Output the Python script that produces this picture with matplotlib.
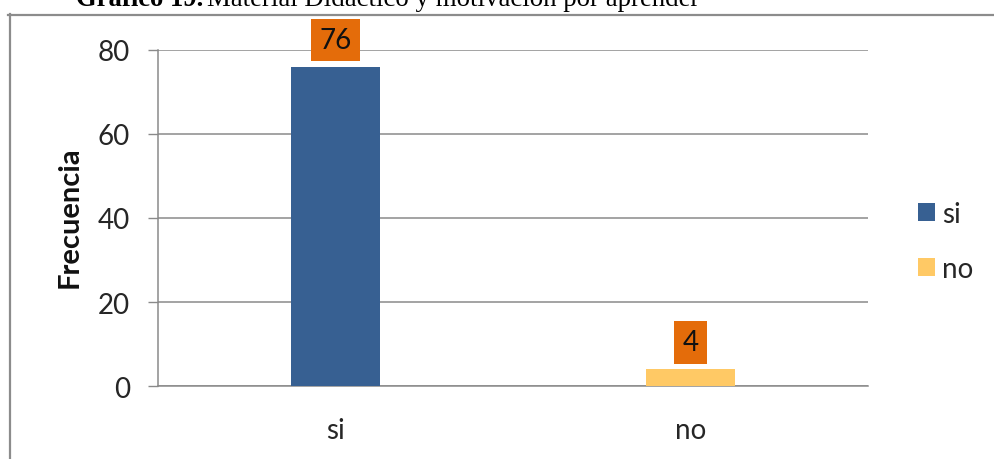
"""Bar chart: Material Didáctico y motivación por aprender."""

import matplotlib

matplotlib.use("Agg")

import matplotlib.pyplot as plt
from matplotlib.lines import Line2D

categories = ["si", "no"]
frequencies = [76, 4]
bar_colors = ["#376092", "#FFC965"]
y_ticks = [0, 20, 40, 60, 80]

W, H = 994, 460
GRID = "#8A8A8A"
TEXT = "#262626"
FS = 20

plt.rcParams["font.family"] = ["Lato", "DejaVu Sans"]

fig = plt.figure(figsize=(W / 100, H / 100), dpi=100)
ax = fig.add_axes([158 / W, 1 - 387 / H, 710 / W, 336 / H])

bars = []
for i, (cat, val, col) in enumerate(zip(categories, frequencies, bar_colors)):
    b = ax.bar(i, val, width=0.25, color=col, label=cat, zorder=3)
    bars.append(b)
    ax.annotate(
        str(val),
        xy=(i, val),
        xytext=(0, 10),
        textcoords="offset points",
        ha="center",
        va="bottom",
        fontsize=FS,
        color="#111111",
        bbox=dict(boxstyle="square,pad=0.3", fc="#E46C0A", ec="none"),
        zorder=4,
    )

ax.set_xlim(-0.5, 1.5)
ax.set_ylim(0, 80)
ax.set_yticks(y_ticks)
ax.set_xticks(range(len(categories)))
ax.set_xticklabels(categories)
ax.yaxis.grid(True, color=GRID, linewidth=1.1, zorder=0)
ax.tick_params(axis="y", length=7, width=1, color=GRID, pad=13,
               labelsize=FS, labelcolor=TEXT)
ax.tick_params(axis="x", length=0, pad=22, labelsize=FS, labelcolor=TEXT)
for side in ["top", "right"]:
    ax.spines[side].set_visible(False)
for side in ["left", "bottom"]:
    ax.spines[side].set_color(GRID)
    ax.spines[side].set_linewidth(1.1)

ax.legend(
    handles=bars,
    labels=categories,
    loc="center left",
    bbox_to_anchor=(1.07, 0.43),
    frameon=False,
    fontsize=FS,
    handlelength=0.62,
    handleheight=0.62,
    handletextpad=0.25,
    labelspacing=1.05,
    labelcolor=TEXT,
    borderaxespad=0,
    borderpad=0,
)

fig.text(70 / W, 1 - 217 / H, "Frecuencia", rotation=90, ha="center",
         va="center", fontsize=21, fontweight="bold", color="#111111")

# outer frame (top and left edges visible)
fig.add_artist(Line2D([8 / W, 1], [1 - 15.5 / H] * 2, color="#8C8C8C",
                      linewidth=1.6, transform=fig.transFigure))
fig.add_artist(Line2D([9.5 / W] * 2, [1 - 15 / H, 0], color="#8C8C8C",
                      linewidth=1.6, transform=fig.transFigure))

# clipped caption at the very top
t1 = fig.text(76 / W, 1 - 6 / H, "Gráfico 19.", family="Liberation Serif",
              fontweight="bold", fontsize=19.2, va="baseline", ha="left")
fig.canvas.draw()
bb = t1.get_window_extent()
fig.text(bb.x1 / W + 4 / W, 1 - 6 / H,
         "Material Didáctico y motivación por aprender",
         family="Liberation Serif", fontsize=19.4, va="baseline", ha="left")

fig.savefig("out.png", dpi=100)
